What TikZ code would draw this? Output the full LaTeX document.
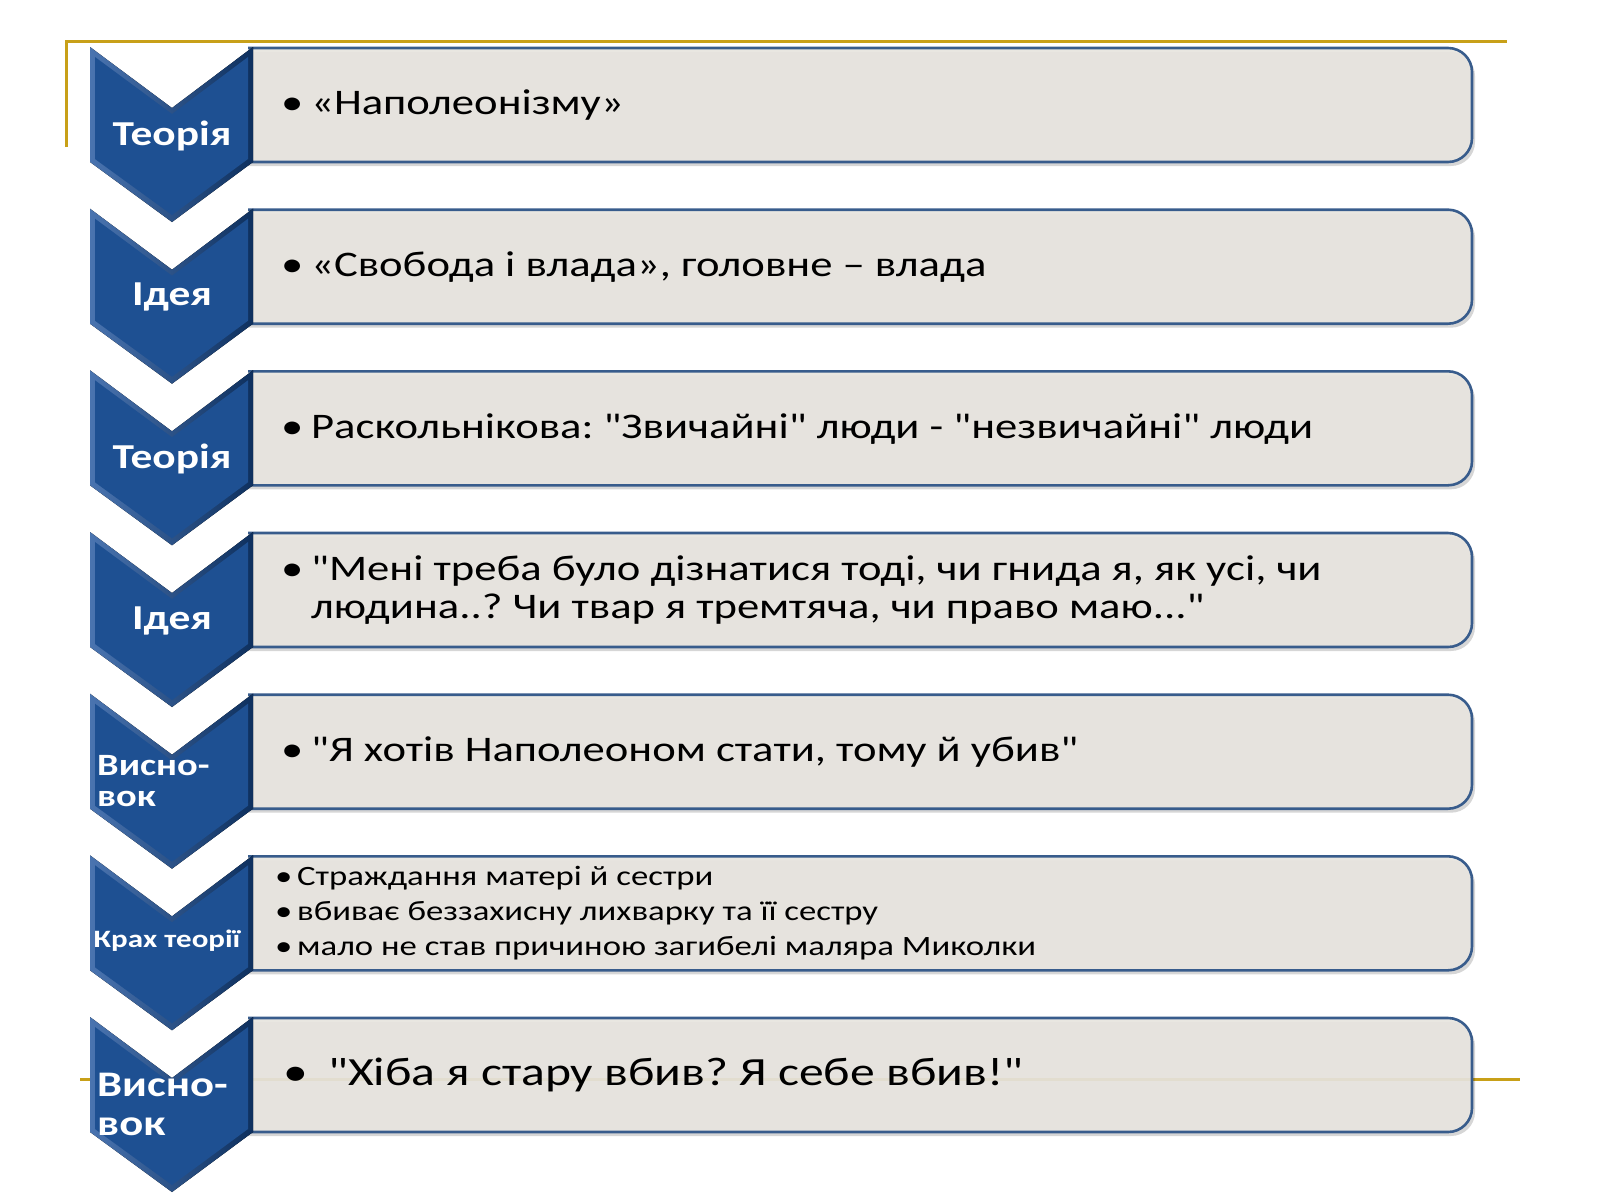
\documentclass[tikz,border=0pt]{standalone}
\usepackage{fontspec}
\setmainfont{Carlito}[FakeStretch=1.24,Ligatures=TeXOff]
\usetikzlibrary{calc}
\definecolor{gold}{RGB}{200,160,24}
\definecolor{boxfill}{RGB}{232,229,223}
\definecolor{boxline}{RGB}{56,92,140}
\definecolor{chevmain}{RGB}{30,80,146}
\definecolor{chevlight}{RGB}{74,116,176}
\definecolor{chevdark}{RGB}{14,48,94}
\tikzset{
  goldline/.style={draw=gold,line width=3pt},
  stagebox/.style={fill=boxfill,fill opacity=0.92,draw=boxline,line width=2.6pt,rounded corners=24pt},
  boxshadow/.style={fill=black,opacity=0.16,rounded corners=24pt},
  chevouter/.style={left color=chevlight,right color=chevdark},
  chevinner/.style={fill=chevmain},
  lbl/.style={text=white,font=\bfseries\fontsize{35}{38}\selectfont,inner sep=0pt},
  lblleft/.style={text=white,font=\bfseries\fontsize{31}{34}\selectfont,inner sep=0pt,anchor=west,align=left},
  txt/.style={anchor=west,inner sep=0pt,text=black,align=left},
}
\newcommand\stagerow[1]{%
  \begin{scope}
  \clip (248,#1-10) rectangle (1500,#1+130);
  \fill[boxshadow] (204,#1+5) rectangle (1475,#1+119);
  \path[stagebox] (200,#1+1) rectangle (1472,#1+115);
  \end{scope}
  \fill[chevouter] (90,#1) -- (172,#1+61) -- (253,#1) -- (253,#1+115) -- (172,#1+175) -- (90,#1+115) -- cycle;
  \fill[chevinner] (95,#1+10) -- (172,#1+67) -- (248,#1+10) -- (248,#1+112) -- (172,#1+168) -- (95,#1+112) -- cycle;
}
\newcommand\bul[1]{\makebox[#1][l]{•}}
\begin{document}
\frenchspacing
\begin{tikzpicture}[x=1pt,y=-1pt]
\useasboundingbox (0,0) rectangle (1600,1200);
\fill[white] (0,0) rectangle (1600,1200);
% gold frame lines
\coordinate (g1) at (66,147);
\coordinate (g2) at (66,41);
\coordinate (g3) at (1507,41);
\coordinate (g4) at (80,1079);
\coordinate (g5) at (1520,1079);
\draw[goldline] (g1) -- (g2) -- (g3);
\draw[goldline] (g4) -- (g5);
% rows
\stagerow{47}
\stagerow{208.7}
\stagerow{370.3}
\stagerow{532}
\stagerow{693.7}
\stagerow{855.3}
\stagerow{1017}
% labels
\node[lbl] (l1) at (172,136) {Теорія};
\node[lbl] (l2) at (172,297) {Ідея};
\node[lbl] (l3) at (172,459) {Теорія};
\node[lbl] (l4) at (172,621) {Ідея};
\node[lblleft] (l5a) at (97,766) {Висно-};
\node[lblleft] (l5b) at (97,799) {вок};
\node[text=white,font=\bfseries\fontsize{25}{27}\selectfont,inner sep=0pt] (l6) at (167,941) {Крах теорії};
\node[text=white,font=\bfseries\fontsize{36}{39}\selectfont,inner sep=0pt,anchor=west] (l7a) at (97,1085) {Висно-};
\node[text=white,font=\bfseries\fontsize{36}{39}\selectfont,inner sep=0pt,anchor=west] (l7b) at (97,1127) {вок};
% texts
\node[txt,font=\fontsize{36}{40}\selectfont] (t1) at (281,105) {\bul{30pt}«Наполеонізму»};
\node[txt,font=\fontsize{36}{40}\selectfont] (t2) at (281,267) {\bul{30pt}«Свобода і влада», головне – влада};
\node[txt,font=\fontsize{36}{40}\selectfont] (t3) at (281,429) {\bul{30pt}Раскольнікова: "Звичайні" люди - "незвичайні" люди};
\node[txt,font=\fontsize{36}{38}\selectfont] (t4) at (281,590) {\bul{30pt}"Мені треба було дізнатися тоді, чи гнида я, як усі, чи\\\hspace*{30pt}людина..? Чи твар я тремтяча, чи право маю..."};
\node[txt,font=\fontsize{36}{40}\selectfont] (t5) at (281,752) {\bul{30pt}"Я хотів Наполеоном стати, тому й убив"};
\node[txt,font=\fontsize{28}{35}\selectfont] (t6) at (275,913) {\bul{22pt}Страждання матері й сестри\\\bul{22pt}вбиває беззахисну лихварку та її сестру\\\bul{22pt}мало не став причиною загибелі маляра Миколки};
\node[txt,font=\fontsize{40}{44}\selectfont] (t7) at (283,1075) {\bul{45pt}"Хіба я стару вбив? Я себе вбив!"};
\end{tikzpicture}
\end{document}
